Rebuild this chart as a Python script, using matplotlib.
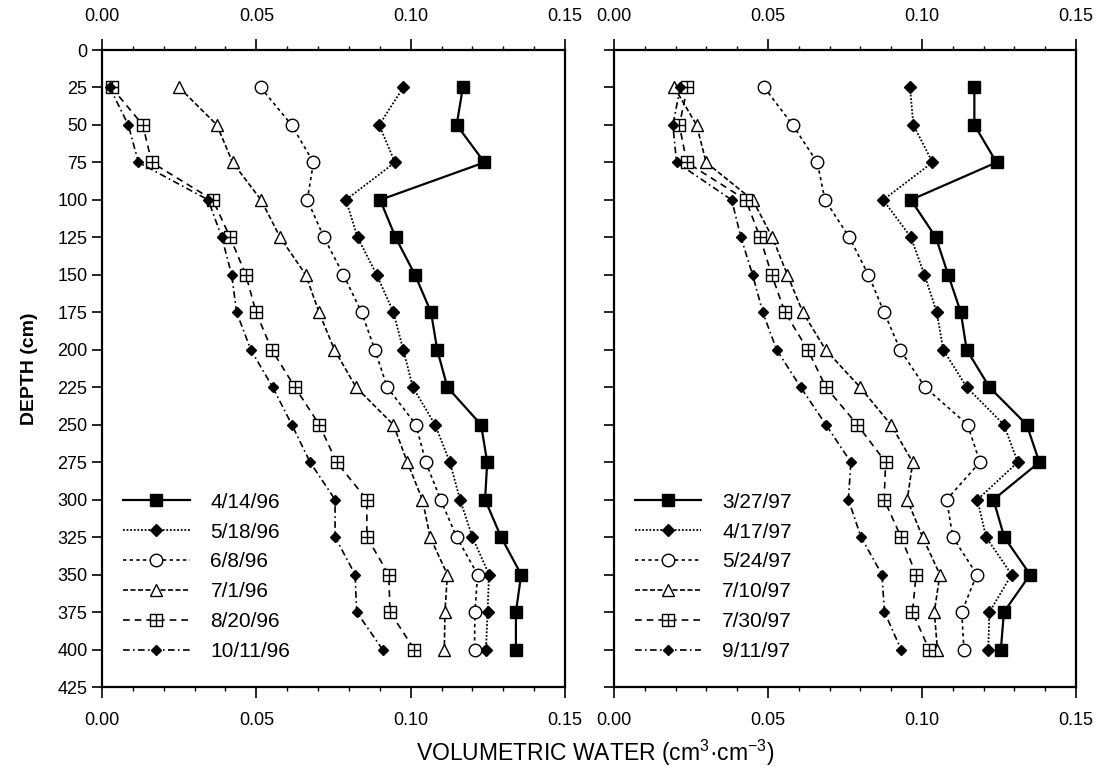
import matplotlib
matplotlib.use("Agg")
import matplotlib.pyplot as plt
from matplotlib.path import Path
from matplotlib.ticker import MultipleLocator, FormatStrFormatter

plt.rcParams['font.family'] = ['Liberation Sans', 'DejaVu Sans']
plt.rcParams['mathtext.fontset'] = 'custom'
plt.rcParams['mathtext.rm'] = 'Liberation Sans'

# depth of each reading (cm)
depth = [25, 50, 75, 100, 125, 150, 175, 200, 225, 250, 275, 300, 325, 350, 375, 400]

# 1996 profiles (volumetric water, cm3/cm3)
labels96 = ['4/14/96', '5/18/96', '6/8/96', '7/1/96', '8/20/96', '10/11/96']
w0414 = [0.1169, 0.1149, 0.1239, 0.0901, 0.0951, 0.1014, 0.1066, 0.1086, 0.1119, 0.1228, 0.1248, 0.1241, 0.1293, 0.1358, 0.1341, 0.1341]
w0518 = [0.0976, 0.0898, 0.0949, 0.0790, 0.0828, 0.0890, 0.0944, 0.0976, 0.1007, 0.1079, 0.1127, 0.1160, 0.1200, 0.1254, 0.1249, 0.1244]
w0608 = [0.0514, 0.0614, 0.0685, 0.0665, 0.0719, 0.0782, 0.0841, 0.0884, 0.0924, 0.1017, 0.1049, 0.1097, 0.1149, 0.1217, 0.1208, 0.1207]
w0701 = [0.0250, 0.0372, 0.0423, 0.0515, 0.0577, 0.0660, 0.0703, 0.0753, 0.0823, 0.0944, 0.0989, 0.1038, 0.1063, 0.1119, 0.1111, 0.1109]
w0820 = [0.0031, 0.0132, 0.0161, 0.0359, 0.0415, 0.0466, 0.0499, 0.0550, 0.0625, 0.0704, 0.0760, 0.0858, 0.0858, 0.0929, 0.0933, 0.1012]
w1011 = [0.0025, 0.0085, 0.0118, 0.0344, 0.0388, 0.0420, 0.0436, 0.0482, 0.0553, 0.0615, 0.0674, 0.0755, 0.0755, 0.0820, 0.0825, 0.0909]

# 1997 profiles
labels97 = ['3/27/97', '4/17/97', '5/24/97', '7/10/97', '7/30/97', '9/11/97']
w0327 = [0.1170, 0.1170, 0.1242, 0.0964, 0.1045, 0.1085, 0.1126, 0.1145, 0.1219, 0.1340, 0.1381, 0.1232, 0.1267, 0.1351, 0.1266, 0.1256]
w0417 = [0.0961, 0.0972, 0.1034, 0.0874, 0.0964, 0.1008, 0.1048, 0.1069, 0.1145, 0.1266, 0.1311, 0.1180, 0.1208, 0.1291, 0.1219, 0.1215]
w0524 = [0.0488, 0.0580, 0.0660, 0.0685, 0.0764, 0.0826, 0.0877, 0.0929, 0.1010, 0.1148, 0.1188, 0.1080, 0.1100, 0.1178, 0.1129, 0.1136]
w0710 = [0.0196, 0.0268, 0.0299, 0.0450, 0.0514, 0.0563, 0.0613, 0.0687, 0.0799, 0.0899, 0.0970, 0.0952, 0.1002, 0.1058, 0.1040, 0.1050]
w0730 = [0.0238, 0.0212, 0.0236, 0.0428, 0.0474, 0.0512, 0.0555, 0.0629, 0.0688, 0.0790, 0.0882, 0.0877, 0.0932, 0.0981, 0.0969, 0.1023]
w0911 = [0.0215, 0.0191, 0.0203, 0.0382, 0.0412, 0.0450, 0.0483, 0.0528, 0.0606, 0.0688, 0.0769, 0.0761, 0.0802, 0.0870, 0.0878, 0.0932]

# square with a cross inside
grid_sq = Path([(-1, -1), (1, -1), (1, 1), (-1, 1), (-1, -1), (0, -1), (0, 1), (-1, 0), (1, 0)],
               [Path.MOVETO, Path.LINETO, Path.LINETO, Path.LINETO, Path.CLOSEPOLY,
                Path.MOVETO, Path.LINETO, Path.MOVETO, Path.LINETO])

styles = [
    dict(ls='-', lw=1.6, marker='s', ms=9, mfc='black'),
    dict(ls=(0, (1, 1)), lw=1.3, marker='D', ms=6.5, mfc='black'),
    dict(ls=(0, (2, 2)), lw=1.2, marker='o', ms=9, mfc='white'),
    dict(ls=(0, (3, 1.5)), lw=1.2, marker='^', ms=9, mfc='white'),
    dict(ls=(0, (4, 3)), lw=1.2, marker=grid_sq, ms=8, mfc='white', mew=1.0),
    dict(ls=(0, (4, 2, 1, 2)), lw=1.2, marker='D', ms=5, mfc='black'),
]

fig = plt.figure(figsize=(11.02, 7.74), dpi=100)
ax1 = fig.add_axes([0.0926, 0.1124, 0.4201, 0.8230])
ax2 = fig.add_axes([0.5572, 0.1124, 0.4192, 0.8230])

for ax, series, labels in [(ax1, [w0414, w0518, w0608, w0701, w0820, w1011], labels96),
                           (ax2, [w0327, w0417, w0524, w0710, w0730, w0911], labels97)]:
    for vals, lab, st in zip(series, labels, styles):
        ax.plot(vals, depth, color='black', mec='black', label=lab, **st)
    ax.set_xlim(0, 0.15)
    ax.set_ylim(425, 0)
    ax.xaxis.set_major_locator(MultipleLocator(0.05))
    ax.xaxis.set_minor_locator(MultipleLocator(0.01))
    ax.xaxis.set_major_formatter(FormatStrFormatter('%.2f'))
    ax.yaxis.set_major_locator(MultipleLocator(25))
    ax.tick_params(axis='x', which='both', top=True, bottom=True, labeltop=True,
                   labelbottom=True, direction='out', labelsize=13, pad=10)
    ax.tick_params(axis='x', which='major', length=8, width=1.2)
    ax.tick_params(axis='x', which='minor', length=3, width=1.0)
    ax.tick_params(axis='y', which='major', direction='out', length=7, width=1.2, labelsize=13)
    for sp in ax.spines.values():
        sp.set_linewidth(1.6)
    leg = ax.legend(loc='upper left', bbox_to_anchor=(0.045, 0.305), frameon=False,
                    fontsize=15, handlelength=3.2, handletextpad=1.0, labelspacing=0.52,
                    borderpad=0, borderaxespad=0)

ax2.tick_params(axis='y', labelleft=False)
ax1.set_ylabel('DEPTH (cm)', fontsize=14, fontweight='bold', labelpad=14)
fig.text(0.54, 0.008, r'VOLUMETRIC WATER (cm$^{3}$·cm$^{-3}$)', ha='center', va='bottom', fontsize=16.5)

fig.savefig('out.png', dpi=100)
